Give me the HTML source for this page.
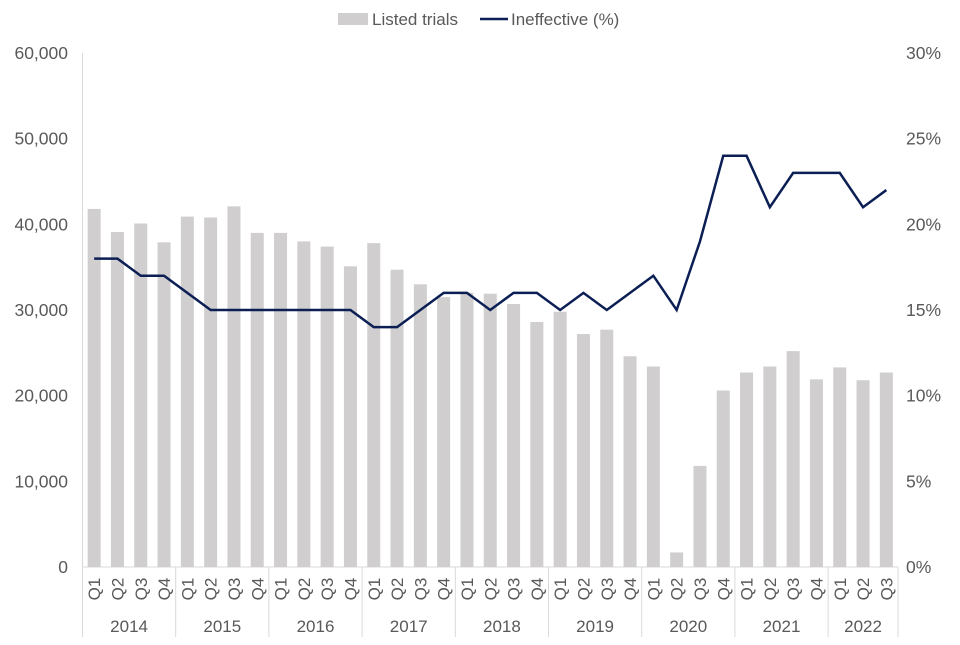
<!DOCTYPE html>
<html><head><meta charset="utf-8"><style>
body{margin:0;background:#fff;font-family:"Liberation Sans",Arial,sans-serif}
svg text{font-family:"Liberation Sans",Arial,sans-serif;fill:#595959}
</style></head><body>
<svg id="c" width="960" height="640"></svg>
<script>
const years=["2014","2015","2016","2017","2018","2019","2020","2021","2022"];
const quarters=["Q1","Q2","Q3","Q4"];
const listedTrials=[41800,39100,40100,37900,40900,40800,42100,39000,39000,38000,37400,35100,37800,34700,33000,31500,32000,31900,30700,28600,29800,27200,27700,24600,23400,1700,11800,20600,22700,23400,25200,21900,23300,21800,22700];
const ineffective=[18,18,17,17,16,15,15,15,15,15,15,15,14,14,15,16,16,15,16,16,15,16,15,16,17,15,19,24,24,21,23,23,23,21,22];
const leftTicks=[0,10000,20000,30000,40000,50000,60000];
const rightTicks=[0,5,10,15,20,25,30];
const NS="http://www.w3.org/2000/svg";
const svg=document.getElementById('c');
const x0=82.5,x1=898,yTop=53,yBot=567;
const n=listedTrials.length,step=(x1-x0)/n;
const yL=v=>yBot-(v/60000)*(yBot-yTop);
const yR=v=>yBot-(v/30)*(yBot-yTop);
const xc=i=>x0+step*(i+0.5);
function mk(t,a,p){const e=document.createElementNS(NS,t);for(const k in a)e.setAttribute(k,a[k]);(p||svg).appendChild(e);return e;}
let e=mk('line',{x1:x0,y1:yTop,x2:x0,y2:yBot,stroke:'#d9d9d9'});

e=mk('line',{x1:x0,y1:yBot,x2:x1,y2:yBot,stroke:'#d9d9d9'});

leftTicks.forEach(v=>{const t=mk('text',{x:68,y:yL(v)+6,'text-anchor':'end','font-size':17.5});t.textContent=v.toLocaleString('en-US');
});
rightTicks.forEach(v=>{const t=mk('text',{x:906,y:yR(v)+6,'text-anchor':'start','font-size':17.5});t.textContent=v+'%';
});
listedTrials.forEach((v,i)=>{const r=mk('rect',{x:xc(i)-6.5,y:yL(v),width:13,height:yBot-yL(v),fill:'#d0cece'});
});
const pts=ineffective.map((v,i)=>xc(i)+','+yR(v)).join(' ');
e=mk('polyline',{points:pts,fill:'none',stroke:'#0b1f55','stroke-width':2.5,'stroke-linejoin':'miter'});

listedTrials.forEach((v,i)=>{const q=quarters[i%4];const t=mk('text',{x:0,y:0,'text-anchor':'middle','font-size':17,transform:`translate(${xc(i)+6},${589}) rotate(-90)`});t.textContent=q;
});
for(let k=0;k<=years.length;k++){const xi=x0+Math.min(k*4,n)*step;
const l=mk('line',{x1:xi,y1:yBot,x2:xi,y2:637,stroke:'#d9d9d9'});}
years.forEach((y,k)=>{const s=k*4,en=Math.min(s+4,n);const t=mk('text',{x:x0+step*(s+en)/2,y:632,'text-anchor':'middle','font-size':17});t.textContent=y;
});
const g=mk('g',{});
mk('rect',{x:338,y:13,width:30,height:12,fill:'#d0cece'},g);
let t=mk('text',{x:372,y:25,'font-size':17},g);t.textContent='Listed trials';
mk('line',{x1:480,y1:19,x2:508,y2:19,stroke:'#0b1f55','stroke-width':2.5},g);
t=mk('text',{x:511,y:25,'font-size':17},g);t.textContent='Ineffective (%)';
</script>
</body></html>
